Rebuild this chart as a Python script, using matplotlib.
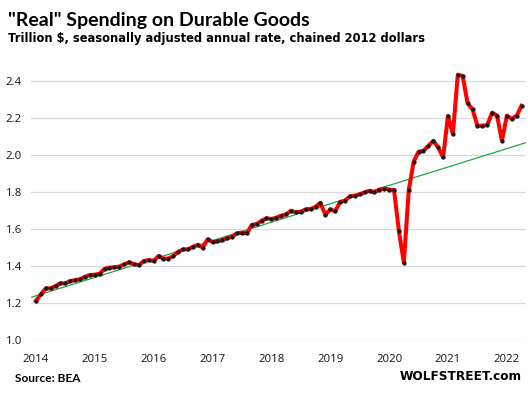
"""
"Real" spending on durable goods, monthly 2014 - Apr 2022 (trillion $, chained 2012 dollars).
"""

import numpy as np
import matplotlib.pyplot as plt

# Data, monthly from Jan 2014
years = [2014, 2015, 2016, 2017, 2018, 2019, 2020, 2021, 2022]
spending = [
    # 2014
    1.211, 1.247, 1.279, 1.279, 1.292, 1.306, 1.306, 1.319, 1.324, 1.328, 1.342, 1.351,
    # 2015
    1.353, 1.358, 1.385, 1.391, 1.393, 1.397, 1.409, 1.420, 1.410, 1.405, 1.427, 1.432,
    # 2016
    1.427, 1.454, 1.440, 1.440, 1.454, 1.477, 1.490, 1.490, 1.504, 1.514, 1.500, 1.544,
    # 2017
    1.530, 1.533, 1.540, 1.550, 1.559, 1.577, 1.580, 1.577, 1.622, 1.627, 1.645, 1.658,
    # 2018
    1.654, 1.661, 1.672, 1.679, 1.699, 1.690, 1.694, 1.706, 1.708, 1.720, 1.742, 1.676,
    # 2019
    1.706, 1.696, 1.746, 1.753, 1.777, 1.780, 1.788, 1.798, 1.807, 1.798, 1.813, 1.818,
    # 2020
    1.813, 1.811, 1.587, 1.418, 1.810, 1.964, 2.018, 2.023, 2.049, 2.077, 2.041, 1.987,
    # 2021
    2.211, 2.114, 2.434, 2.427, 2.279, 2.247, 2.158, 2.158, 2.162, 2.229, 2.213, 2.077,
    # 2022
    2.213, 2.195, 2.213, 2.266,
]
# green trend line, ends (month index, value)
trend_months = [-1.2, 99.8]
trend_values = [1.229, 2.066]

W, H = 528, 394


def main():
    months = np.arange(len(spending))

    fig = plt.figure(figsize=(W / 100, H / 100), dpi=100)
    ax = fig.add_axes([31 / W, 1 - 340 / H, 495 / W, (340 - 62.5) / H])

    ax.plot(trend_months, trend_values, color="#1aa843", linewidth=0.9, zorder=2)
    ax.plot(months, spending, color="#ff0000", linewidth=2.9, solid_joinstyle="round",
            zorder=3)
    ax.plot(months, spending, linestyle="none", marker="o", markersize=2.1,
            color="#1a1a1a", zorder=4)

    ax.set_xlim(-1, 99.9)
    ax.set_ylim(1.0, 2.5)
    ax.set_yticks(np.arange(1.0, 2.41, 0.2))
    ax.set_yticklabels([f"{v:.1f}" for v in np.arange(1.0, 2.41, 0.2)])
    ax.set_xticks([12 * i for i in range(len(years))])
    ax.set_xticklabels([str(y) for y in years])

    ax.grid(axis="y", color="#d9d9d9", linewidth=0.9)
    ax.set_axisbelow(True)
    for s in ax.spines.values():
        s.set_visible(False)
    ax.tick_params(axis="both", length=0, labelsize=8.2, labelcolor="#111111")
    ax.tick_params(axis="y", pad=6.5)
    ax.tick_params(axis="x", pad=10)
    for lab in ax.get_xticklabels() + ax.get_yticklabels():
        lab.set_family("Open Sans")

    fig.text(8 / W, 1 - 26 / H, '"Real" Spending on Durable Goods', fontsize=14,
             fontweight="bold", family="Lato", va="baseline", ha="left")
    fig.text(8 / W, 1 - 41.7 / H, "Trillion $, seasonally adjusted annual rate, chained 2012 dollars",
             fontsize=8.3, fontweight="bold", family="DejaVu Sans", va="baseline", ha="left")
    fig.text(15 / W, 1 - 382.5 / H, "Source: BEA", fontsize=8.6, fontweight="bold",
             family="Lato", va="baseline", ha="left")
    fig.text(522 / W, 1 - 379.5 / H, "WOLFSTREET.com", fontsize=8.7, fontweight="bold",
             family="DejaVu Sans", va="baseline", ha="right")

    fig.savefig("out.png", dpi=100)
    plt.close(fig)


if __name__ == "__main__":
    main()
